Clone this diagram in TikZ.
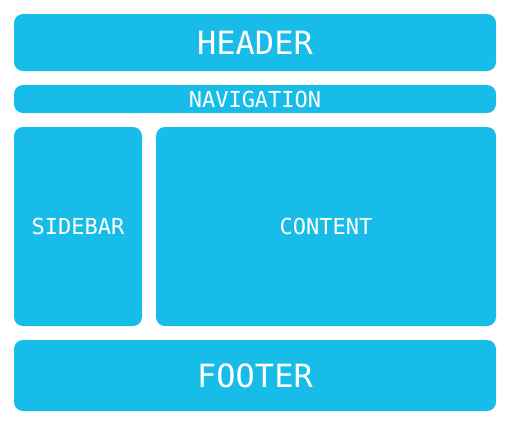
\documentclass[tikz,border=0pt]{standalone}
\usepackage{fontspec}
\setmonofont{DejaVu Sans Mono}
\definecolor{boxblue}{HTML}{17BCE8}
\tikzset{
  block/.style={fill=boxblue, rounded corners=9pt, inner sep=0pt, text=white, font=\ttfamily\fontsize{22}{24}\selectfont},
  bigblock/.style={block, font=\ttfamily\fontsize{32}{36}\selectfont}
}
\begin{document}
\begin{tikzpicture}[x=1pt,y=-1pt]
			\useasboundingbox (0,0) rectangle (511,426);
			\node [bigblock, minimum width=482pt, minimum height=57pt] (header) at (255,42.5) {HEADER};
			\node [block, minimum width=482pt, minimum height=28pt] (nav) at (255,99) {NAVIGATION};
			\node [block, minimum width=128pt, minimum height=199pt] (sidebar) at (78,226.5) {SIDEBAR};
			\node [block, minimum width=340pt, minimum height=199pt] (content) at (326,226.5) {CONTENT};
			\node [bigblock, minimum width=482pt, minimum height=71pt] (footer) at (255,375.5) {FOOTER};
		\end{tikzpicture}
\end{document}
